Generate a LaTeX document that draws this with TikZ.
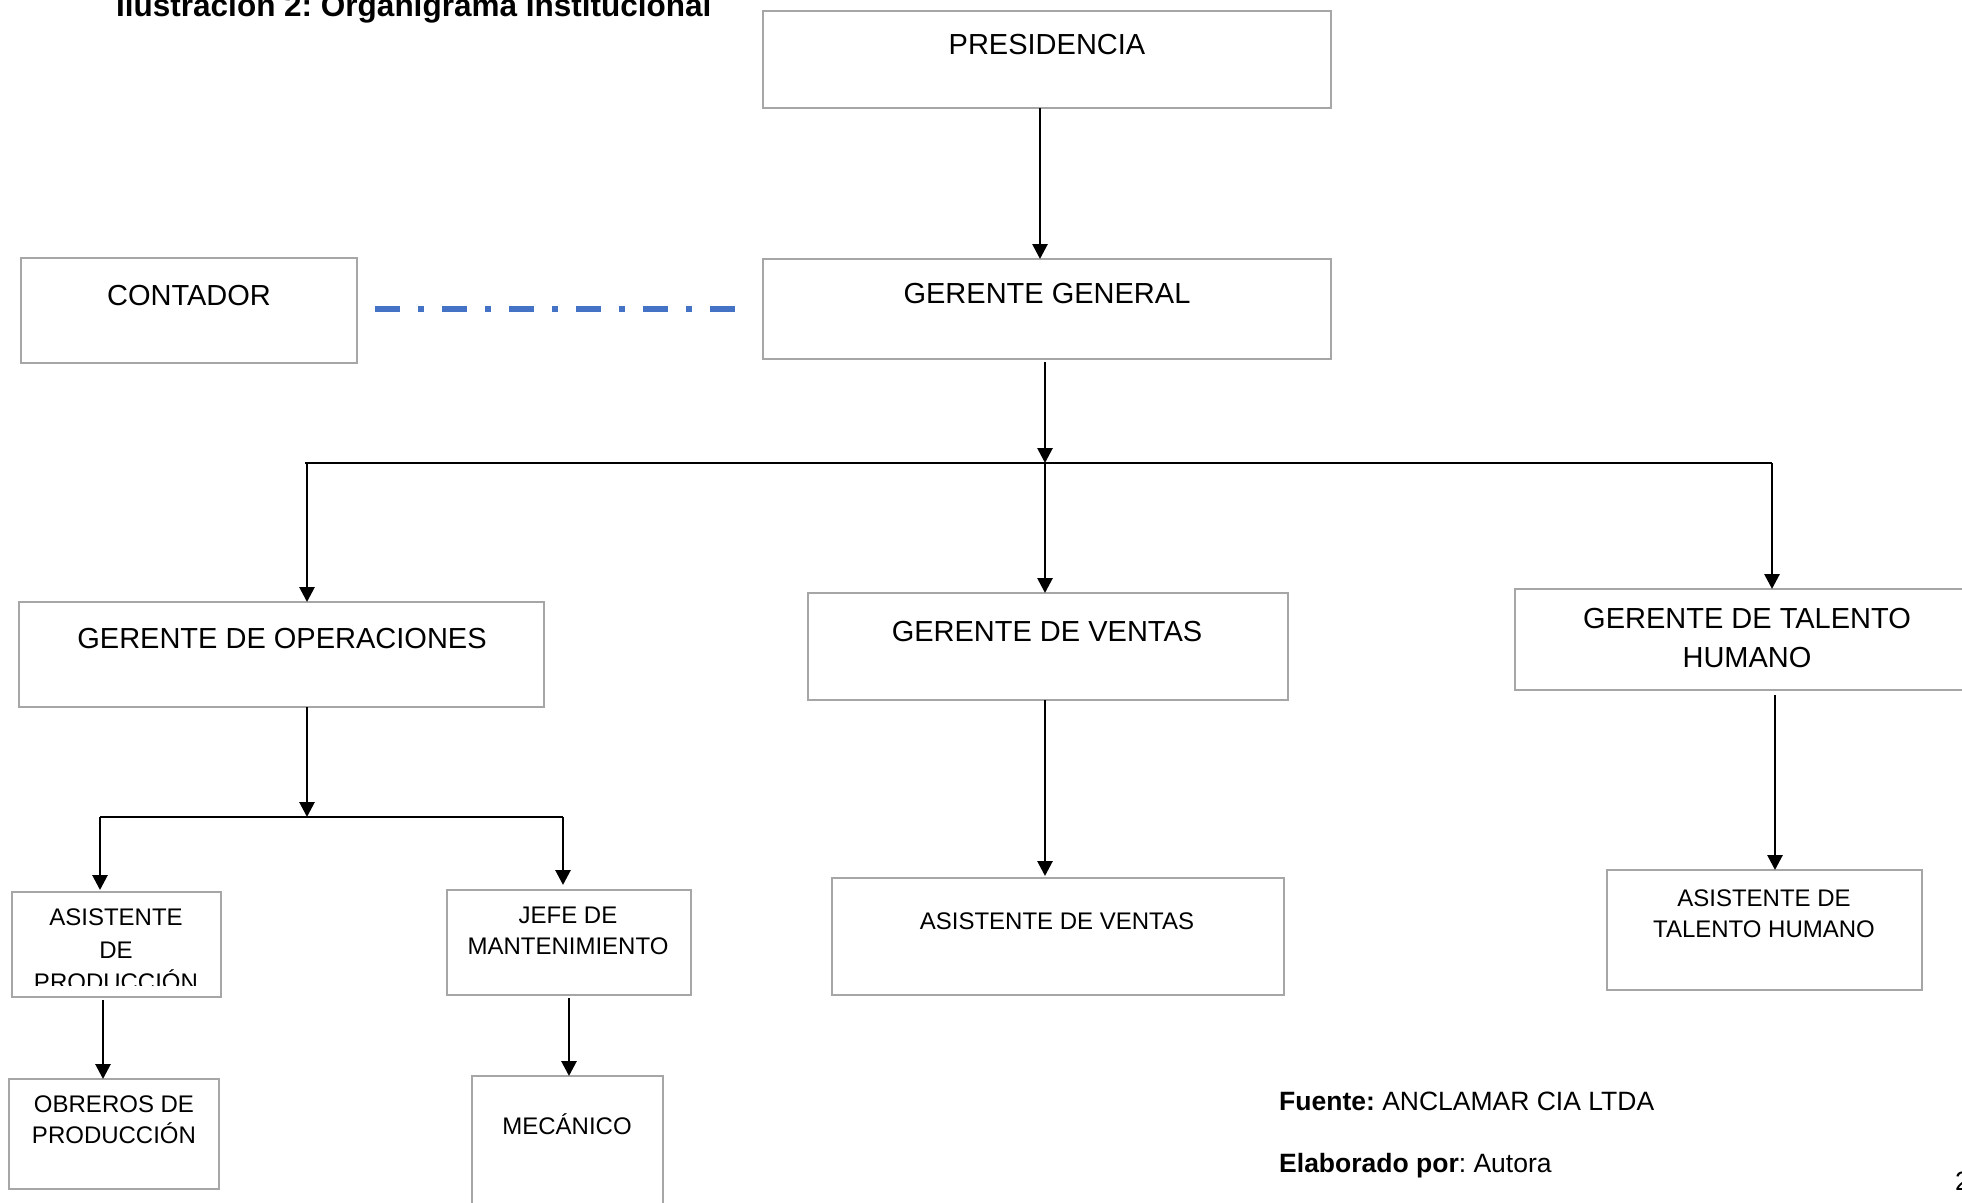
\documentclass[tikz,border=0pt]{standalone}
\usepackage{fontspec}
\setmainfont{Liberation Sans}
\usetikzlibrary{arrows.meta}
\definecolor{boxgray}{HTML}{A6A6A6}
\definecolor{dashblue}{HTML}{4472C4}
\frenchspacing
\begin{document}
\begin{tikzpicture}[x=1pt,y=-1pt,
  box/.style={draw=boxgray, line width=2.5pt, inner sep=0pt, outer sep=0pt, anchor=north west},
  big/.style={font=\fontsize{29}{39}\selectfont, inner sep=0pt, align=center},
  small/.style={font=\fontsize{24}{31}\selectfont, inner sep=0pt, align=center},
  arr/.style={line width=2.8pt, -{Triangle[length=15pt,width=15pt]}},
  ln/.style={line width=2.8pt},
  dashline/.style={line width=6pt, color=dashblue, dash pattern=on 25pt off 18pt on 6pt off 18pt}]
\useasboundingbox (0,0) rectangle (1962,1202);
\clip (0,0) rectangle (1962,1202);

% boxes
\node[box, minimum width=568pt, minimum height=97pt] (pres) at (763,11) {};
\node[box, minimum width=568pt, minimum height=100pt] (gg) at (763,259) {};
\node[box, minimum width=336pt, minimum height=105pt] (cont) at (21,258) {};
\node[box, minimum width=525pt, minimum height=105pt] (op) at (19,602) {};
\node[box, minimum width=480pt, minimum height=107pt] (ven) at (808,593) {};
\node[box, minimum width=460pt, minimum height=101pt] (th) at (1515,589) {};
\node[box, minimum width=209pt, minimum height=105pt] (ap) at (12,892) {};
\node[box, minimum width=244pt, minimum height=105pt] (jefe) at (447,890) {};
\node[box, minimum width=452pt, minimum height=117pt] (av) at (832,878) {};
\node[box, minimum width=315pt, minimum height=120pt] (ath) at (1607,870) {};
\node[box, minimum width=210pt, minimum height=110pt] (obr) at (9,1079) {};
\node[box, minimum width=191pt, minimum height=140pt] (mec) at (472,1076) {};

% texts
\node[font=\bfseries\fontsize{31.5}{38}\selectfont, inner sep=0pt, anchor=base west] (title) at (116,16) {Ilustración 2: Organigrama Institucional};
\node[big, anchor=base] (presT) at (1047,54) {PRESIDENCIA};
\node[big, anchor=base] (ggT) at (1047,303) {GERENTE GENERAL};
\node[big, anchor=base] (contT) at (189,305) {CONTADOR};
\node[big, anchor=base] (opT) at (282,648) {GERENTE DE OPERACIONES};
\node[big, anchor=base] (venT) at (1047,641) {GERENTE DE VENTAS};
\node[big, anchor=north] (thT) at (1747,607.6) {GERENTE DE TALENTO\\HUMANO};
\begin{scope}
  \clip (12,892) rectangle (221,985);
  \node[small, font=\fontsize{24}{32.5}\selectfont, anchor=north] (apT) at (116,909) {ASISTENTE\\DE\\PRODUCCIÓN};
\end{scope}
\node[small, anchor=north] (jefeT) at (568,906.4) {JEFE DE\\MANTENIMIENTO};
\node[small, anchor=base] (avT) at (1057,929) {ASISTENTE DE VENTAS};
\node[small, anchor=north] (athT) at (1764,889.4) {ASISTENTE DE\\TALENTO HUMANO};
\node[small, anchor=north] (obrT) at (114,1095.4) {OBREROS DE\\PRODUCCIÓN};
\node[small, anchor=base] (mecT) at (567,1134) {MECÁNICO};

\node[font=\fontsize{26.5}{32}\selectfont, inner sep=0pt, anchor=base west] (src) at (1279,1110.5) {\textbf{Fuente:} ANCLAMAR CIA LTDA};
\node[font=\fontsize{26.5}{32}\selectfont, inner sep=0pt, anchor=base west] (elab) at (1279,1172) {\textbf{Elaborado por}: Autora};
\node[font=\fontsize{26.5}{32}\selectfont, inner sep=0pt, anchor=base west] (pg) at (1955,1190) {2};

% junction coordinates
\coordinate (j1) at (1045,463);
\coordinate (jL) at (305,463);
\coordinate (jR) at (1772,463);
\coordinate (j2) at (307,817);
\coordinate (j2L) at (100,817);
\coordinate (j2R) at (563,817);

% connectors
\draw[arr] ([xshift=-7pt]pres.south) -- ([xshift=-7pt]gg.north);
\draw[dashline, shorten <=18pt, shorten >=28pt] (cont.east |- gg.west) -- (gg.west);
\draw[arr, shorten <=3pt] (gg.south -| j1) -- (j1);
\draw[ln] (jL) -- (jR);
\draw[arr] ([xshift=2pt]jL) -- ([xshift=2pt]jL |- op.north);
\draw[arr] (j1) -- (j1 |- ven.north);
\draw[arr] (jR) -- (jR |- th.north);
\draw[arr] (op.south -| j2) -- (j2);
\draw[ln] (j2L) -- (j2R);
\draw[arr, shorten >=2pt] (j2L) -- (j2L |- ap.north);
\draw[arr, shorten >=5pt] (j2R) -- (j2R |- jefe.north);
\draw[arr, shorten <=3pt] ([xshift=-13.5pt]ap.south) -- ([xshift=-13.5pt]ap.south |- obr.north);
\draw[arr, shorten <=3pt] (jefe.south) -- (jefe.south |- mec.north);
\draw[arr, shorten >=2pt] ([xshift=-3pt]ven.south) -- ([xshift=-3pt]ven.south |- av.north);
\draw[arr, shorten <=5pt] ([xshift=30pt]th.south) -- ([xshift=30pt]th.south |- ath.north);
\end{tikzpicture}
\end{document}
